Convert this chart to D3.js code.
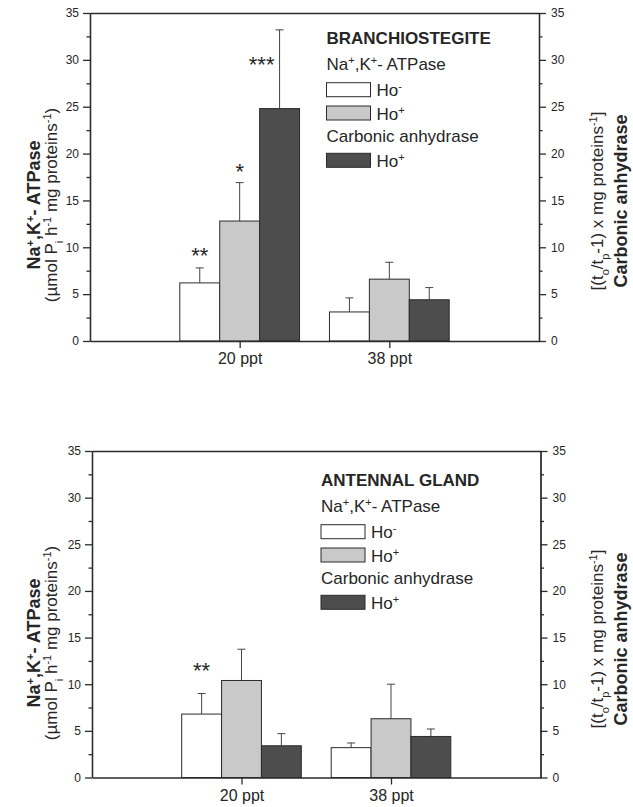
<!DOCTYPE html>
<html>
<head>
<meta charset="utf-8">
<script src="https://cdn.jsdelivr.net/npm/d3@7"></script>
<style>
  html, body { margin: 0; padding: 0; background: #ffffff; }
  svg { display: block; }
  text { font-family: "Liberation Sans", Arial, Helvetica, sans-serif; fill: #262626; }
</style>
</head>
<body>
<svg id="chart" width="633" height="807"></svg>
<script>
// ---------------- DATA ----------------
const categories = ["20 ppt", "38 ppt"];
const seriesKeys = ["nakHoMinus", "nakHoPlus", "caHoPlus"];
const yTicks = [0, 5, 10, 15, 20, 25, 30, 35];
const yMinorTicks = [2.5, 7.5, 12.5, 17.5, 22.5, 27.5, 32.5];

// Branchiostegite
const branchNakHoMinus = [6.2, 3.1];
const branchNakHoMinusSD = [1.6, 1.5];
const branchNakHoPlus = [12.8, 6.6];
const branchNakHoPlusSD = [4.1, 1.8];
const branchCaHoPlus = [24.8, 4.4];
const branchCaHoPlusSD = [8.4, 1.3];
const branchSig = [
  { cat: "20 ppt", series: "nakHoMinus", text: "**", y: 9.7 },
  { cat: "20 ppt", series: "nakHoPlus", text: "*", y: 18.6 },
  { cat: "20 ppt", series: "caHoPlus", text: "***", y: 30.0 }
];

// Antennal gland
const antNakHoMinus = [6.8, 3.2];
const antNakHoMinusSD = [2.2, 0.5];
const antNakHoPlus = [10.4, 6.3];
const antNakHoPlusSD = [3.35, 3.7];
const antCaHoPlus = [3.4, 4.4];
const antCaHoPlusSD = [1.3, 0.8];
const antSig = [
  { cat: "20 ppt", series: "nakHoMinus", text: "**", y: 12.0 }
];

// ---------------- STYLE ----------------
const fills = { nakHoMinus: "#ffffff", nakHoPlus: "#c9c9c9", caHoPlus: "#4d4d4d" };
const ink = "#2b2b2b";

const svg = d3.select("#chart");

function buildRows(a, aSD, b, bSD, c, cSD) {
  return categories.map((cat, i) => ({
    cat,
    values: [
      { key: "nakHoMinus", v: a[i], sd: aSD[i] },
      { key: "nakHoPlus", v: b[i], sd: bSD[i] },
      { key: "caHoPlus", v: c[i], sd: cSD[i] }
    ]
  }));
}

function drawPanel(cfg) {
  const g = svg.append("g");
  const y = d3.scaleLinear().domain([0, 35]).range([cfg.yBottom, cfg.yTop]);
  const x = d3.scaleLinear().domain([0, 3]).range([cfg.xLeft, cfg.xRight]);
  const catPos = cat => x(categories.indexOf(cat) + 1);
  const unit = x(1) - x(0);
  const inner = d3.scaleBand().domain(seriesKeys).range([-0.4 * unit, 0.4 * unit]).paddingInner(0);

  // bars
  const grp = g.selectAll("g.grp").data(cfg.rows).join("g")
    .attr("transform", d => `translate(${catPos(d.cat)},0)`);
  grp.selectAll("line.err").data(d => d.values).join("line")
    .attr("x1", d => inner(d.key) + inner.bandwidth() / 2)
    .attr("x2", d => inner(d.key) + inner.bandwidth() / 2)
    .attr("y1", d => y(d.v)).attr("y2", d => y(d.v + d.sd))
    .attr("stroke", "#444").attr("stroke-width", 1);
  grp.selectAll("line.cap").data(d => d.values).join("line")
    .attr("x1", d => inner(d.key) + inner.bandwidth() / 2 - 4)
    .attr("x2", d => inner(d.key) + inner.bandwidth() / 2 + 4)
    .attr("y1", d => y(d.v + d.sd)).attr("y2", d => y(d.v + d.sd))
    .attr("stroke", "#444").attr("stroke-width", 1);
  grp.selectAll("rect").data(d => d.values).join("rect")
    .attr("x", d => inner(d.key))
    .attr("width", inner.bandwidth())
    .attr("y", d => y(d.v))
    .attr("height", d => y(0) - y(d.v))
    .attr("fill", d => fills[d.key])
    .attr("stroke", ink).attr("stroke-width", 1);

  // significance
  const rowsByCat = new Map(cfg.rows.map(r => [r.cat, r]));
  const fs = 22;
  g.selectAll("text.sig").data(cfg.sig).join("text")
    .attr("class", "sig")
    .attr("x", d => {
      const val = rowsByCat.get(d.cat).values.find(v => v.key === d.series);
      const left = catPos(d.cat) + inner(d.series);
      // labels placed below the error cap are shifted onto the bar's left edge
      return d.y < val.v + val.sd ? left + 2 : left + inner.bandwidth() / 2;
    })
    .attr("y", d => y(d.y) + 0.57 * fs)
    .attr("text-anchor", "middle")
    .attr("font-size", fs)
    .text(d => d.text);

  // axes
  const left = g.append("g").attr("transform", `translate(${cfg.xLeft},0)`)
    .call(d3.axisLeft(y).tickValues(yTicks).tickSize(7).tickSizeOuter(0).tickPadding(4));
  const leftMinor = g.append("g").attr("transform", `translate(${cfg.xLeft},0)`)
    .call(d3.axisLeft(y).tickValues(yMinorTicks).tickSize(3.5).tickSizeOuter(0).tickFormat(""));
  const right = g.append("g").attr("transform", `translate(${cfg.xRight},0)`)
    .call(d3.axisRight(y).tickValues(yTicks).tickSize(7).tickSizeOuter(0).tickPadding(5));
  const rightMinor = g.append("g").attr("transform", `translate(${cfg.xRight},0)`)
    .call(d3.axisRight(y).tickValues(yMinorTicks).tickSize(3.5).tickSizeOuter(0).tickFormat(""));
  const bottom = g.append("g").attr("transform", `translate(0,${cfg.yBottom})`)
    .call(d3.axisBottom(x).tickValues([1, 2]).tickFormat(i => categories[i - 1]).tickSize(7).tickSizeOuter(0).tickPadding(5));
  const top = g.append("g").attr("transform", `translate(0,${cfg.yTop})`)
    .call(d3.axisTop(x).tickValues([]).tickSizeOuter(0));
  [left, leftMinor, right, rightMinor, bottom, top].forEach(a => {
    a.selectAll("path, line").attr("stroke", ink).attr("stroke-width", 1.3);
    a.selectAll("text").attr("fill", "#2e2e2e").style("font-family", '"Liberation Sans", Arial, sans-serif');
  });
  left.selectAll("text").attr("font-size", 12);
  right.selectAll("text").attr("font-size", 12);
  bottom.selectAll("text").attr("font-size", 16);

  // axis titles
  const cy = cfg.yTop + 192;
  const lt1 = g.append("text").attr("transform", `translate(40,${cy}) rotate(-90)`)
    .attr("text-anchor", "middle").attr("font-size", 18).attr("font-weight", "bold");
  lt1.append("tspan").text("Na");
  lt1.append("tspan").attr("baseline-shift", "super").attr("font-size", 11).text("+");
  lt1.append("tspan").text(",K");
  lt1.append("tspan").attr("baseline-shift", "super").attr("font-size", 11).text("+");
  lt1.append("tspan").text("- ATPase");

  const lt2 = g.append("text").attr("transform", `translate(57,${cy}) rotate(-90)`)
    .attr("text-anchor", "middle").attr("font-size", 17);
  lt2.append("tspan").text("(\u00b5mol P");
  lt2.append("tspan").attr("baseline-shift", "sub").attr("font-size", 11).text("i");
  lt2.append("tspan").text(" h");
  lt2.append("tspan").attr("baseline-shift", "super").attr("font-size", 11).text("-1");
  lt2.append("tspan").text(" mg proteins");
  lt2.append("tspan").attr("baseline-shift", "super").attr("font-size", 11).text("-1");
  lt2.append("tspan").text(")");

  const rt1 = g.append("text").attr("transform", `translate(603,${cy - 4}) rotate(-90)`)
    .attr("text-anchor", "middle").attr("font-size", 17);
  rt1.append("tspan").text("[(t");
  rt1.append("tspan").attr("baseline-shift", "sub").attr("font-size", 11).text("o");
  rt1.append("tspan").text("/t");
  rt1.append("tspan").attr("baseline-shift", "sub").attr("font-size", 11).text("p");
  rt1.append("tspan").text("-1) x mg proteins");
  rt1.append("tspan").attr("baseline-shift", "super").attr("font-size", 11).text("-1");
  rt1.append("tspan").text("]");

  g.append("text").attr("transform", `translate(627,${cy - 4}) rotate(-90)`)
    .attr("text-anchor", "middle").attr("font-size", 18).attr("font-weight", "bold")
    .text("Carbonic anhydrase");

  // legend
  const L = g.append("g").attr("transform", `translate(${cfg.legendX},${cfg.legendY})`);
  L.append("text").attr("x", 0).attr("y", 0).attr("font-size", 17).attr("font-weight", "bold").text(cfg.title);
  const l2 = L.append("text").attr("x", 0).attr("y", 26).attr("font-size", 17);
  l2.append("tspan").text("Na");
  l2.append("tspan").attr("baseline-shift", "super").attr("font-size", 11).text("+");
  l2.append("tspan").text(",K");
  l2.append("tspan").attr("baseline-shift", "super").attr("font-size", 11).text("+");
  l2.append("tspan").text("- ATPase");
  L.append("text").attr("x", 0).attr("y", 97.7).attr("font-size", 17).text("Carbonic anhydrase");

  const items = [
    { key: "nakHoMinus", sign: "-", dy: 38.7 },
    { key: "nakHoPlus", sign: "+", dy: 62 },
    { key: "caHoPlus", sign: "+", dy: 109.3 }
  ];
  items.forEach(it => {
    L.append("rect").attr("x", 0).attr("y", it.dy).attr("width", 44).attr("height", 14)
      .attr("fill", fills[it.key]).attr("stroke", ink).attr("stroke-width", 1);
    const t = L.append("text").attr("x", 50).attr("y", it.dy + 13.5).attr("font-size", 17);
    t.append("tspan").text("Ho");
    t.append("tspan").attr("baseline-shift", "super").attr("font-size", 11).text(it.sign);
  });
}

drawPanel({
  yTop: 13, yBottom: 341, xLeft: 90, xRight: 539,
  rows: buildRows(branchNakHoMinus, branchNakHoMinusSD, branchNakHoPlus, branchNakHoPlusSD, branchCaHoPlus, branchCaHoPlusSD),
  sig: branchSig, title: "BRANCHIOSTEGITE", legendX: 326.5, legendY: 44
});
drawPanel({
  yTop: 451, yBottom: 777.5, xLeft: 92, xRight: 540.5,
  rows: buildRows(antNakHoMinus, antNakHoMinusSD, antNakHoPlus, antNakHoPlusSD, antCaHoPlus, antCaHoPlusSD),
  sig: antSig, title: "ANTENNAL GLAND", legendX: 321, legendY: 486
});
</script>
</body>
</html>
